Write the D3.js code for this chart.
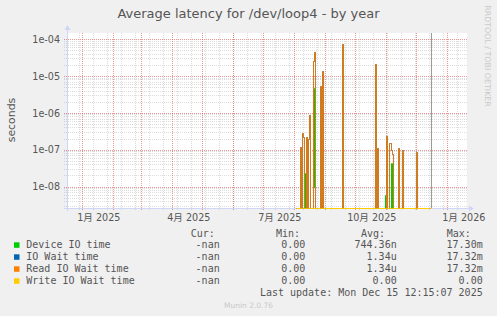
<!DOCTYPE html>
<html><head><meta charset="utf-8">
<script src="https://cdn.jsdelivr.net/npm/d3@7/dist/d3.min.js"></script>
<style>
body{margin:0;background:#f0f0f0;}
svg{display:block;}
</style>
</head><body>
<svg id="chart" width="497" height="316"></svg>
<script>
// ---------------- data ----------------
const title = "Average latency for /dev/loop4 - by year";
const yAxisLabel = "seconds";
const sampleDates = ["2025-08-03","2025-08-07","2025-08-08","2025-08-09","2025-08-10","2025-08-11","2025-08-12","2025-08-13","2025-08-14","2025-08-15","2025-08-16","2025-08-17","2025-08-20","2025-08-21","2025-08-22","2025-08-27","2025-08-28","2025-08-29","2025-08-30","2025-09-18","2025-09-19","2025-10-21","2025-10-22","2025-10-23","2025-10-24","2025-10-31","2025-11-01","2025-11-02","2025-11-04","2025-11-05","2025-11-06","2025-11-07","2025-11-08","2025-11-13","2025-11-14","2025-11-17","2025-11-18","2025-12-01","2025-12-02","2025-12-15"];
const deviceIOTime = [0,0,1.4e-8,0,0,0,2.3e-8,0,5.9e-8,0,0,0,1e-8,4.6e-6,0,0,0,0,0,5e-5,0,1.5e-5,0,0,0,5.9e-9,0,0,0,0,4.4e-8,0,0,0,0,5e-9,0,0,0,0];
const ioWaitTime   = [0,1.2e-7,0,2.8e-7,2.2e-7,0,0,2.2e-7,0,2.0e-7,8.7e-7,0,2.5e-5,4.5e-5,0,5.3e-6,0,1.36e-5,0,7.3e-5,0,2.1e-5,0,1.1e-7,0,0,2.3e-7,0,1.5e-7,1.5e-7,1.0e-7,7.6e-8,0,1.1e-7,0,1e-7,0,8.6e-8,0,0];
const readIOWaitTime = [0,1.2e-7,0,2.8e-7,2.2e-7,0,0,2.2e-7,0,2.0e-7,8.7e-7,0,2.5e-5,4.5e-5,0,5.3e-6,0,1.36e-5,0,7.3e-5,0,2.1e-5,0,1.1e-7,0,0,2.3e-7,0,1.5e-7,1.5e-7,1.0e-7,7.6e-8,0,1.1e-7,0,1e-7,0,8.6e-8,0,0];
const writeIOWaitTime = [0,0,0,0,0,0,0,0,0,0,0,0,0,0,0,0,0,0,0,0,0,0,0,0,0,0,0,0,0,0,0,0,0,0,0,0,0,0,0,0];
const seriesNames = ["Device IO time","IO Wait time","Read IO Wait time","Write IO Wait time"];
const seriesColors = ["#00cc00","#0066b3","#ff8000","#ffcc00"];
const curValues = ["-nan","-nan","-nan","-nan"];
const minValues = ["0.00","0.00","0.00","0.00"];
const avgValues = ["744.36n","1.34u","1.34u","0.00"];
const maxValues = ["17.30m","17.32m","17.32m","0.00"];
const yTickValues = [1e-4,1e-5,1e-6,1e-7,1e-8];
const yTickLabels = ["1e-04","1e-05","1e-06","1e-07","1e-08"];
const xLabelMonths = ["2025-01-01","2025-04-01","2025-07-01","2025-10-01","2026-01-01"];
const xLabelTexts = ["1月 2025","4月 2025","7月 2025","10月 2025","1月 2026"];
const legendHeaders = ["Cur:","Min:","Avg:","Max:"];
const lastUpdate = "Last update: Mon Dec 15 12:15:07 2025";
const nowStamp = "2025-12-15T12:15:07Z";
const footer = "Munin 2.0.76";
const watermark = "RRDTOOL / TOBI OETIKER";

// ---------------- layout ----------------
const L = 67, R = 467, T = 33, B = 208;
const svg = d3.select("#chart");
const parse = d3.utcParse("%Y-%m-%d");
const domStart = new Date(Date.UTC(2024, 11, 16, 17));
const domEnd = d3.utcDay.offset(domStart, 400);
const x = d3.scaleUtc().domain([domStart, domEnd]).range([L, R]);
const yMin = 2.63e-9, yMax = 1.456e-4;
const y = d3.scaleLog().domain([yMin, yMax]).range([B, T]).clamp(true);

const font = "'DejaVu Sans', 'Noto Sans CJK JP', sans-serif";
const mono = "'DejaVu Sans Mono', monospace";
const textCol = "#555";

svg.append("rect").attr("width", 497).attr("height", 316).attr("fill", "#f0f0f0");
svg.append("rect").attr("x", L).attr("y", T).attr("width", R - L).attr("height", B - T).attr("fill", "#fff");

const grid = svg.append("g").attr("shape-rendering", "crispEdges");
const px = v => Math.round(v) + 0.5;
const minorCol = "rgba(143,143,143,0.3)";
const majorCol = "rgba(222,79,79,0.6)";

const minorY = [];
for (let e = -9; e <= -4; e++) for (let k = 2; k <= 9; k++) { const v = k * Math.pow(10, e); if (v > yMin && v < yMax) minorY.push(v); }
grid.selectAll(".mhy").data(minorY).enter().append("line")
  .attr("x1", L - 3).attr("x2", R).attr("y1", d => px(y(d))).attr("y2", d => px(y(d)))
  .attr("stroke", minorCol).attr("stroke-dasharray", "1,1");
const minorX = d3.utcDays(new Date(Date.UTC(2024,11,29)), domEnd, 14);
grid.selectAll(".mvx").data(minorX).enter().append("line")
  .attr("x1", d => px(x(d))).attr("x2", d => px(x(d))).attr("y1", T).attr("y2", B + 3)
  .attr("stroke", minorCol).attr("stroke-dasharray", "1,1");
grid.selectAll(".My").data(yTickValues).enter().append("line")
  .attr("x1", L - 3).attr("x2", R).attr("y1", d => px(y(d))).attr("y2", d => px(y(d)))
  .attr("stroke", majorCol).attr("stroke-dasharray", "1,1");
const months = d3.utcMonths(domStart, domEnd);
grid.selectAll(".Mx").data(months).enter().append("line")
  .attr("x1", d => px(x(d))).attr("x2", d => px(x(d))).attr("y1", T).attr("y2", B + 3)
  .attr("stroke", majorCol).attr("stroke-dasharray", "1,1");

const axCol = "#cfd6f8";
svg.append("line").attr("x1", L - 3).attr("x2", R + 3).attr("y1", B + 0.5).attr("y2", B + 0.5).attr("stroke", axCol);
svg.append("line").attr("x1", L + 0.5).attr("x2", L + 0.5).attr("y1", B + 3).attr("y2", T - 4).attr("stroke", axCol);
svg.append("path").attr("d", `M${R+2},${B-2.5} L${R+7},${B+0.5} L${R+2},${B+3.5} Z`).attr("fill", axCol);
svg.append("path").attr("d", `M${L-2.5},${T-3} L${L+0.5},${T-8} L${L+3.5},${T-3} Z`).attr("fill", axCol);

// series (pixel-snapped step lines, like rrdtool)
const rows = sampleDates.map(d => ({ date: parse(d) }));
const seriesData = [deviceIOTime, ioWaitTime, readIOWaitTime, writeIOWaitTime];
const line = d3.line()
  .x(d => Math.round(x(d.date)) + 0.5)
  .y(d => Math.round(y(d.v > 0 ? d.v : yMin)) + 0.5)
  .curve(d3.curveStepAfter);
const opac = [1, 1, 0.82, 1];
seriesData.forEach((vals, si) => {
  const pts = rows.map((r, i) => ({ date: r.date, v: vals[i] }));
  svg.append("path").datum(pts).attr("d", line).attr("fill", "none")
    .attr("stroke", seriesColors[si]).attr("stroke-width", 1).attr("stroke-opacity", opac[si]);
});

svg.append("line").attr("x1", px(x(new Date(nowStamp)))).attr("x2", px(x(new Date(nowStamp))))
  .attr("y1", T).attr("y2", B).attr("stroke", "#999").attr("stroke-width", 1);

const yAxis = d3.axisLeft(y).tickValues(yTickValues).tickFormat((d, i) => yTickLabels[i]).tickSize(0).tickPadding(0);
const gy = svg.append("g").attr("transform", `translate(60,0)`).call(yAxis);
gy.select(".domain").remove();
gy.selectAll("text").attr("font-family", font).attr("font-size", 9.6).attr("fill", textCol).attr("dy", "0.34em");

const labelDates = xLabelMonths.map(d => d3.utcDay.offset(parse(d), 16));
const xAxis = d3.axisBottom(x).tickValues(labelDates).tickFormat((d, i) => xLabelTexts[i]).tickSize(0).tickPadding(0);
const gx = svg.append("g").attr("transform", `translate(0,214)`).call(xAxis);
gx.select(".domain").remove();
gx.selectAll("text").attr("font-family", font).attr("font-size", 9.6).attr("fill", textCol).attr("dy", "0.71em");

svg.append("text").attr("x", 248.5).attr("y", 17.5).attr("text-anchor", "middle")
  .attr("font-family", font).attr("font-size", 13).attr("fill", textCol).text(title);
svg.append("text").attr("transform", "translate(14.5,120) rotate(-90)").attr("text-anchor", "middle")
  .attr("font-family", font).attr("font-size", 10.9).attr("fill", textCol).text(yAxisLabel);
svg.append("text").attr("transform", "translate(485,56) rotate(90)").attr("text-anchor", "middle")
  .attr("font-family", font).attr("font-size", 7.9).attr("fill", "#c8c8c8").text(watermark);

const colRight = [219.7, 305.3, 396.7, 482.7];
const headerX = [190.7, 276, 361, 446.7];
legendHeaders.forEach((h, i) => {
  svg.append("text").attr("x", headerX[i]).attr("y", 236.5).attr("font-family", mono).attr("font-size", 10).attr("fill", textCol).text(h);
});
seriesNames.forEach((name, i) => {
  const by = 248.3 + i * 12;
  svg.append("rect").attr("x", 14).attr("y", by - 6).attr("width", 5.5).attr("height", 5.5).attr("fill", seriesColors[i]);
  svg.append("text").attr("x", 26.3).attr("y", by).attr("font-family", mono).attr("font-size", 10).attr("fill", textCol).text(name);
  [curValues[i], minValues[i], avgValues[i], maxValues[i]].forEach((v, j) => {
    svg.append("text").attr("x", colRight[j]).attr("y", by).attr("text-anchor", "end")
      .attr("font-family", mono).attr("font-size", 10).attr("fill", textCol).text(v);
  });
});
svg.append("text").attr("x", 482.7).attr("y", 296.3).attr("text-anchor", "end")
  .attr("font-family", mono).attr("font-size", 10).attr("fill", textCol).text(lastUpdate);
svg.append("text").attr("x", 248.5).attr("y", 308).attr("text-anchor", "middle")
  .attr("font-family", font).attr("font-size", 7.5).attr("fill", "#c8c8c8").text(footer);
</script>
</body></html>
